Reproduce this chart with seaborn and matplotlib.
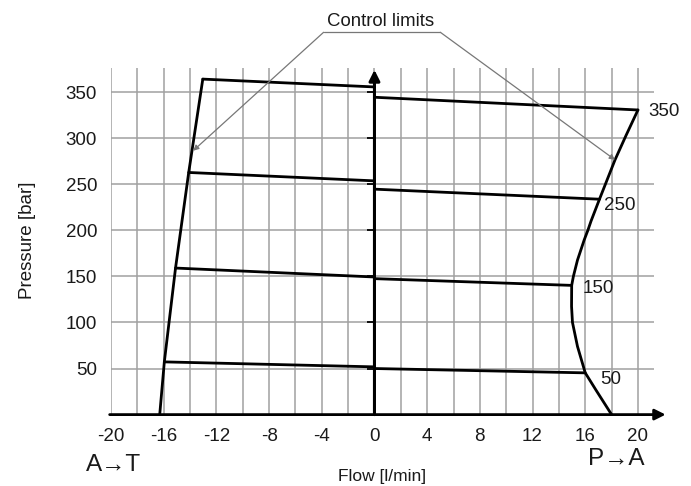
import numpy as np
import pandas as pd
import matplotlib
matplotlib.use("Agg")
import matplotlib.pyplot as plt
import seaborn as sns

# pressure settings of the valve (bar)
settings = [50, 150, 250, 350]

# constant-setting lines, A->T side (flow < 0): start on left limit, end at flow 0
at_start_flow = [-15.95, -15.1, -14.1, -13.03]
at_start_p = [57.2, 159.0, 262.7, 364.0]
at_end_p = [51.8, 149.3, 253.6, 355.5]

# constant-setting lines, P->A side (flow > 0): start at flow 0, end on right limit
pa_start_p = [50.0, 147.5, 244.6, 344.3]
pa_end_flow = [16.0, 14.97, 17.08, 20.0]
pa_end_p = [45.3, 140.2, 233.7, 330.5]

# left control limit (A->T)
left_flow = [-16.3, -15.95, -15.1, -14.1, -13.03]
left_p = [0, 57.2, 159.0, 262.7, 364.0]

# right control limit (P->A)
right_flow = [20.0, 19.1, 18.26, 17.08, 16.44, 16.2, 15.92, 15.41, 15.1, 14.97,
              14.96, 15.03, 15.41, 16.0, 16.82, 18.0]
right_p = [330.5, 303, 276.4, 233.7, 210, 200, 189.5, 167.6, 150, 140.2,
           117.4, 100, 74, 45.3, 26.5, 0]

# label positions for settings
label_flow = [17.1, 15.8, 17.4, 20.8]
label_p = [37.9, 137, 227, 328.6]

x_ticks = list(range(-20, 21, 2))
y_ticks = [50, 100, 150, 200, 250, 300, 350]

# build long-form table of line segments
rows = []
for i, s in enumerate(settings):
    rows.append(("at%d" % s, at_start_flow[i], at_start_p[i]))
    rows.append(("at%d" % s, 0.0, at_end_p[i]))
    rows.append(("pa%d" % s, 0.0, pa_start_p[i]))
    rows.append(("pa%d" % s, pa_end_flow[i], pa_end_p[i]))
for f, p in zip(left_flow, left_p):
    rows.append(("left", f, p))
for f, p in zip(right_flow, right_p):
    rows.append(("right", f, p))
df = pd.DataFrame(rows, columns=["segment", "flow", "pressure"])

sns.set_theme(style="white")
plt.rcParams["font.family"] = ["Liberation Sans", "DejaVu Sans"]

fig = plt.figure(figsize=(6.91, 4.86), dpi=100)
ax = fig.add_axes([0.1606, 0.1469, 0.7855, 0.7131])
ax.set_xlim(-20, 21.2)
ax.set_ylim(0, 376)

ax.grid(True, color="#a0a0a0", lw=1.1)
ax.set_axisbelow(True)
for sp in ax.spines.values():
    sp.set_visible(False)

sns.lineplot(data=df, x="flow", y="pressure", units="segment", estimator=None,
             sort=False, color="black", lw=2.0, ax=ax, legend=False)

# axes as arrows
ax.annotate("", xy=(22.1, 0), xytext=(-20.1, 0), annotation_clip=False,
            arrowprops=dict(arrowstyle="-|>", color="black", lw=2.0,
                            mutation_scale=16, shrinkA=0, shrinkB=0))
ax.annotate("", xy=(0, 374), xytext=(0, 0), annotation_clip=False,
            arrowprops=dict(arrowstyle="-|>", color="black", lw=2.2,
                            mutation_scale=16, shrinkA=0, shrinkB=0))
ax.plot(np.zeros(len(y_ticks)), y_ticks, ls="none", marker=0, ms=5, mew=1.3, color="black")

ax.set_xticks(x_ticks)
ax.set_xticklabels([str(t) if t % 4 == 0 else "" for t in x_ticks])
ax.set_yticks(y_ticks)
ax.tick_params(axis="x", length=4, width=1.3, color="black", direction="out",
               pad=5.5, labelsize=13.5, labelcolor="#1a1a1a")
ax.tick_params(axis="y", length=0, pad=10, labelsize=13.5, labelcolor="#1a1a1a")

ax.set_xlabel("Flow [l/min]", fontsize=12.5, color="#1a1a1a")
ax.xaxis.set_label_coords(0.499, -0.157)
ax.set_ylabel("Pressure [bar]", fontsize=13.5, color="#1a1a1a")
ax.yaxis.set_label_coords(-0.138, 0.504)

ax.text(-19.8, -54.3, "A\u2192T", fontsize=17.5, ha="center", va="center", color="#1a1a1a")
ax.text(18.35, -47.8, "P\u2192A", fontsize=17.5, ha="center", va="center", color="#1a1a1a")

for s, f, p in zip(settings, label_flow, label_p):
    ax.text(f, p, str(s), fontsize=13.5, ha="left", va="center", color="#1a1a1a")

# control limits callout
ax.text(0.48, 427, "Control limits", fontsize=13.4, ha="center", va="center", color="#1a1a1a")
ax.plot([-3.86, 5.0], [414.8, 414.8], color="#777777", lw=0.9, clip_on=False)
ax.annotate("", xy=(-13.76, 286.3), xytext=(-3.86, 414.8), annotation_clip=False,
            arrowprops=dict(arrowstyle="-|>", color="#777777", lw=0.9,
                            mutation_scale=8, shrinkA=0, shrinkB=0))
ax.annotate("", xy=(18.26, 276.4), xytext=(5.0, 414.8), annotation_clip=False,
            arrowprops=dict(arrowstyle="-|>", color="#777777", lw=0.9,
                            mutation_scale=8, shrinkA=0, shrinkB=0))

fig.savefig("out.png", dpi=100)
